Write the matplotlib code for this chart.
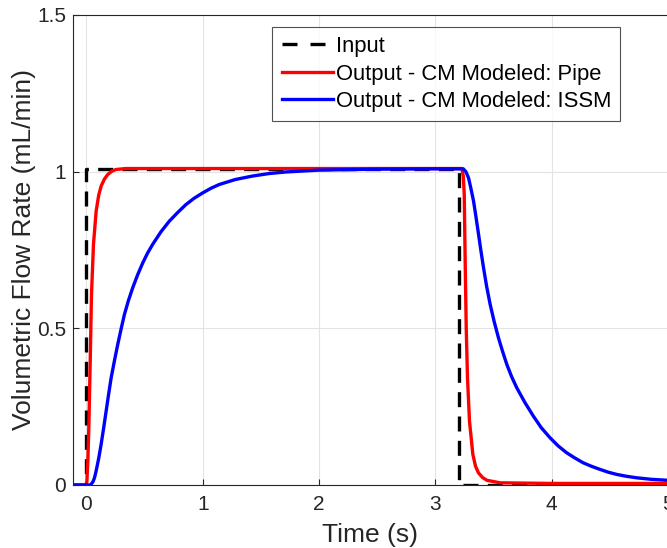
import matplotlib.pyplot as plt

# valores
t_input = [-0.12, 0.0, 0.0, 3.2, 3.2, 5.0]
q_input = [0.0, 0.0, 1.01, 1.01, 0.0, 0.0]

t_pipe = [-0.12, -0.005, 0.003, 0.012, 0.02, 0.032, 0.043, 0.06, 0.083, 0.105, 0.126, 0.155,
          0.183, 0.22, 0.255, 0.34, 1.0, 2.0, 3.0,
          3.228, 3.24, 3.248, 3.256, 3.265, 3.276, 3.293, 3.322, 3.345, 3.37, 3.405, 3.443,
          3.556, 4.0, 5.0]
q_pipe = [0.0, 0.0, 0.01, 0.08, 0.183, 0.395, 0.608, 0.768, 0.874, 0.925, 0.954, 0.977,
          0.991, 1.002, 1.007, 1.01, 1.01, 1.01, 1.01,
          1.01, 0.985, 0.927, 0.715, 0.502, 0.342, 0.204, 0.098, 0.06, 0.039, 0.024, 0.015,
          0.007, 0.005, 0.005]

t_issm = [-0.12, 0.035, 0.055, 0.068, 0.083, 0.105, 0.126, 0.148, 0.169, 0.19, 0.212, 0.24,
          0.269, 0.297, 0.326, 0.36, 0.398, 0.44, 0.484, 0.525, 0.569, 0.64, 0.712, 0.785,
          0.855, 0.925, 0.998, 1.07, 1.141, 1.28, 1.427, 1.57, 1.713, 2.0, 2.5, 3.0,
          3.24, 3.262, 3.285, 3.305, 3.328, 3.35, 3.371, 3.392, 3.414, 3.44, 3.471, 3.505,
          3.542, 3.578, 3.614, 3.655, 3.70, 3.77, 3.842, 3.91, 3.985, 4.055, 4.128, 4.2,
          4.27, 4.34, 4.414, 4.485, 4.557, 4.64, 4.73, 4.86, 5.0]
q_issm = [0.0, 0.0, 0.01, 0.022, 0.045, 0.085, 0.13, 0.183, 0.236, 0.289, 0.342, 0.396,
          0.449, 0.497, 0.544, 0.588, 0.63, 0.671, 0.709, 0.74, 0.768, 0.808, 0.842, 0.87,
          0.895, 0.915, 0.932, 0.947, 0.959, 0.975, 0.986, 0.994, 0.999, 1.005, 1.008, 1.009,
          1.009, 1.0, 0.98, 0.947, 0.906, 0.853, 0.80, 0.746, 0.693, 0.635, 0.576, 0.522,
          0.47, 0.426, 0.385, 0.346, 0.31, 0.263, 0.22, 0.183, 0.151, 0.125, 0.103, 0.086,
          0.071, 0.06, 0.05, 0.041, 0.034, 0.028, 0.023, 0.018, 0.015]

plt.rcParams['font.family'] = ['Liberation Sans', 'DejaVu Sans']

fig = plt.figure(figsize=(6.67, 5.48), dpi=100)
ax = fig.add_axes([73/667, 63/548, 595/667, 470/548])

ax.plot(t_input, q_input, color='black', lw=2.4, ls=(0, (4.5, 2.8)), label='Input')
ax.plot(t_pipe, q_pipe, color='red', lw=2.4, label='Output - CM Modeled: Pipe')
ax.plot(t_issm, q_issm, color='blue', lw=2.4, label='Output - CM Modeled: ISSM')

ax.set_xlim(-0.116, 5.0)
ax.set_ylim(0, 1.5)
ax.set_xticks([0, 1, 2, 3, 4, 5])
ax.set_yticks([0, 0.5, 1, 1.5])
ax.set_yticklabels(['0', '0.5', '1', '1.5'])
ax.grid(True, color='#e3e3e3', lw=0.8)
ax.set_axisbelow(True)
ax.tick_params(direction='in', length=4, colors='#262626', labelsize=15)
ax.tick_params(axis='x', pad=7)
ax.tick_params(axis='y', pad=5)
for s in ax.spines.values():
    s.set_color('#262626')
    s.set_linewidth(0.8)

ax.set_xlabel('Time (s)', fontsize=19, color='#262626', labelpad=7)
ax.set_ylabel('Volumetric Flow Rate (mL/min)', fontsize=19, color='#262626', labelpad=1)

leg = ax.legend(loc='upper right', bbox_to_anchor=(0.92, 0.975), fontsize=15.8,
                frameon=True, fancybox=False, edgecolor='#262626', handlelength=2.35,
                handletextpad=0.12, borderpad=0.42, labelspacing=0.3, borderaxespad=0)
leg.get_frame().set_linewidth(0.8)
leg.get_lines()[0].set_linestyle((0, (4.5, 3.9)))  # dos guiones como en el original

fig.savefig('out.png', dpi=100)
